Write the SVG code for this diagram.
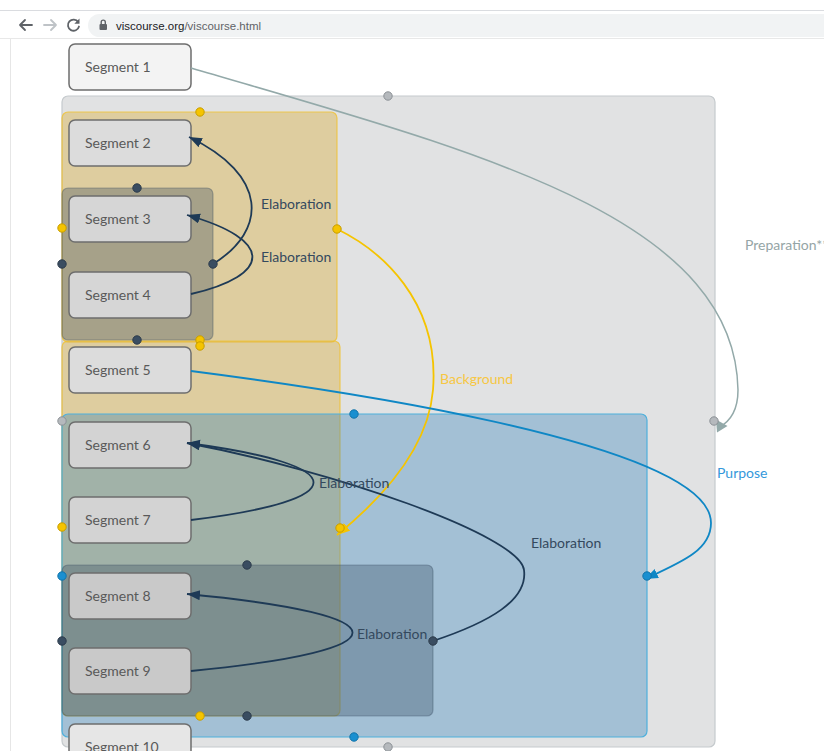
<svg xmlns="http://www.w3.org/2000/svg" width="824" height="751" viewBox="0 0 824 751">
<style>
  .chrome-ico{fill:none;stroke-width:1.8;stroke-linecap:round;stroke-linejoin:round}
  .url{font-family:"Liberation Sans","Noto Sans",sans-serif;font-size:11.5px}
  .grp{stroke-width:1.2}
  .g-gray{fill:#e1e2e3;stroke:#c5cacd}
  .g-yel{fill:rgb(218,165,32);fill-opacity:0.35;stroke:#f0c233;stroke-opacity:0.8}
  .g-dark{fill:#34495e;fill-opacity:0.33;stroke:#34495e;stroke-opacity:0.35}
  .g-blue{fill:rgb(50,128,186);fill-opacity:0.35;stroke:#4fb0dc}
  .node rect{stroke:#6e6e6e;stroke-width:1.5}
  .node text{font-family:Lato,"Liberation Sans",sans-serif;font-size:14px;fill:#595959}
  .edge{fill:none;stroke-width:1.8}
  .e-elab{stroke:#1e3a56}
  .e-prep{stroke:#93a9a9;stroke-width:1.5}
  .e-bg{stroke:#f5c400}
  .e-purp{stroke:#0f87c5}
  .lbl{font-family:Lato,"Liberation Sans",sans-serif;font-size:14px}
  .h{stroke-width:1}
  .h-gray{fill:#b5b9bd;stroke:#8c9196}
  .h-yel{fill:#f5c400;stroke:#c79d00}
  .h-dark{fill:#3a4d61;stroke:#2c3b4b}
  .h-blue{fill:#1a8fd0;stroke:#1274aa}
</style>
<defs>
  <marker id="a-elab" markerUnits="userSpaceOnUse" markerWidth="14" markerHeight="12" refX="13" refY="5" orient="auto"><path d="M0,0 L13,5 L0,10 z" fill="#1e3a56"/></marker>
  <marker id="a-prep" markerUnits="userSpaceOnUse" markerWidth="14" markerHeight="14" refX="12" refY="6" orient="auto"><path d="M0,0 L12,6 L0,12 z" fill="#93a9a9"/></marker>
  <marker id="a-bg" markerUnits="userSpaceOnUse" markerWidth="14" markerHeight="12" refX="13" refY="5" orient="auto"><path d="M0,0 L13,5 L0,10 z" fill="#f5c400"/></marker>
  <marker id="a-purp" markerUnits="userSpaceOnUse" markerWidth="14" markerHeight="12" refX="13" refY="5" orient="auto"><path d="M0,0 L13,5 L0,10 z" fill="#0f87c5"/></marker>
</defs>
<rect x="0" y="0" width="824" height="751" fill="#ffffff"/>
<!-- browser chrome -->
<g id="browser-bar">
  <line x1="0" y1="10.5" x2="824" y2="10.5" stroke="#dadce0"/>
  <line x1="0" y1="38.5" x2="824" y2="38.5" stroke="#e8e8e8"/>
  <line x1="10.5" y1="39" x2="10.5" y2="751" stroke="#e6e6e6"/>
  <rect x="88" y="14" width="780" height="23" rx="11.5" fill="#f1f3f4"/>
  <path class="chrome-ico" stroke="#5f6368" d="M32,25 H20 M25,20 L20,25 L25,30"/>
  <path class="chrome-ico" stroke="#bfc3c7" d="M44,25 H56 M51,20 L56,25 L51,30"/>
  <path class="chrome-ico" stroke="#5f6368" d="M78.2,22 A5.6,5.6 0 1 0 79,26.5"/>
  <path fill="#5f6368" d="M79.5,18.5 L79.5,23.8 L74.3,23.8 z"/>
  <rect x="99.5" y="24" width="7.5" height="6" rx="1" fill="#5f6368"/>
  <path d="M101.2,24 V22.2 a2.05,2.05 0 0 1 4.1,0 V24" fill="none" stroke="#5f6368" stroke-width="1.4"/>
  <text class="url" x="116" y="29.5"><tspan fill="#202124">viscourse.org</tspan><tspan fill="#5f6368">/viscourse.html</tspan></text>
</g>
<!-- groups -->
<g id="group-preparation"><rect class="grp g-gray" x="62" y="96" width="653" height="651" rx="6"/></g>
<g id="group-background-a"><rect class="grp g-yel" x="62" y="112" width="275" height="230" rx="6"/></g>
<g id="group-background-b"><rect class="grp g-yel" x="62" y="341" width="278" height="375" rx="6"/></g>
<g id="group-elab-3-4"><rect class="grp g-dark" x="62" y="188" width="151" height="152" rx="6"/></g>
<g id="group-purpose"><rect class="grp g-blue" x="62" y="414" width="585" height="323" rx="6"/></g>
<g id="group-elab-8-9"><rect class="grp g-dark" x="62" y="565" width="371" height="151" rx="6"/></g>
<!-- nodes -->
<g id="seg1" class="node"><rect x="69" y="44" width="122" height="46" rx="6" fill="#f3f3f3"/><text x="85" y="72">Segment 1</text></g>
<g id="seg2" class="node"><rect x="69" y="120" width="122" height="46" rx="6" fill="#dcdcdc"/><text x="85" y="148">Segment 2</text></g>
<g id="seg3" class="node"><rect x="69" y="196" width="122" height="46" rx="6" fill="#d6d6d6"/><text x="85" y="224">Segment 3</text></g>
<g id="seg4" class="node"><rect x="69" y="272" width="122" height="46" rx="6" fill="#d6d6d6"/><text x="85" y="300">Segment 4</text></g>
<g id="seg5" class="node"><rect x="69" y="347" width="122" height="46" rx="6" fill="#dcdcdc"/><text x="85" y="375">Segment 5</text></g>
<g id="seg6" class="node"><rect x="69" y="422" width="122" height="46" rx="6" fill="#d3d3d3"/><text x="85" y="450">Segment 6</text></g>
<g id="seg7" class="node"><rect x="69" y="497" width="122" height="46" rx="6" fill="#d3d3d3"/><text x="85" y="525">Segment 7</text></g>
<g id="seg8" class="node"><rect x="69" y="573" width="122" height="46" rx="6" fill="#c9c9c9"/><text x="85" y="601">Segment 8</text></g>
<g id="seg9" class="node"><rect x="69" y="648" width="122" height="46" rx="6" fill="#c9c9c9"/><text x="85" y="676">Segment 9</text></g>
<g id="seg10" class="node"><rect x="69" y="724" width="122" height="46" rx="6" fill="#e6e6e6"/><text x="85" y="752">Segment 10</text></g>
<!-- connectors -->
<g id="connectors">
  <path class="edge e-prep" d="M191,68 C470,150 735,215 738,390 C738,410 730,422 718,428" />
  <path d="M716,419.5 L727.5,426 L717,432.5 z" fill="#93a9a9"/>
  <path class="edge e-elab" marker-end="url(#a-elab)" d="M213,264 C268,230 268,175 189,137"/>
  <path class="edge e-elab" marker-end="url(#a-elab)" d="M191,294 C272,275 275,240 187,215"/>
  <path class="edge e-bg" marker-end="url(#a-bg)" d="M337,229 C380,250 440,300 433,390 C428,450 380,500 337,535"/>
  <path class="edge e-purp" marker-end="url(#a-purp)" d="M191,371 C300,385 711,440 711,523 C711,550 682,562 645,579"/>
  <path class="edge e-elab" marker-end="url(#a-elab)" d="M191,520 C355,500 355,465 187,443"/>
  <path class="edge e-elab" marker-end="url(#a-elab)" d="M433,641 C490,622 528,600 524,570 C520,535 330,470 187,443"/>
  <path class="edge e-elab" marker-end="url(#a-elab)" d="M191,671 C407,650 407,615 187,594"/>
</g>
<!-- labels -->
<g id="labels">
  <text class="lbl" x="745" y="250" fill="#95a5a6">Preparation**</text>
  <text class="lbl" x="261" y="209" fill="#34495e">Elaboration</text>
  <text class="lbl" x="261" y="262" fill="#34495e">Elaboration</text>
  <text class="lbl" x="440" y="384" fill="#f7c744">Background</text>
  <text class="lbl" x="717" y="478" fill="#3498db">Purpose</text>
  <text class="lbl" x="319" y="488" fill="#34495e">Elaboration</text>
  <text class="lbl" x="531" y="548" fill="#34495e">Elaboration</text>
  <text class="lbl" x="357" y="639" fill="#34495e">Elaboration</text>
</g>
<!-- handles -->
<g id="handles">
  <circle class="h h-gray" cx="388" cy="96" r="4.2"/><circle class="h h-gray" cx="388" cy="747" r="4.2"/><circle class="h h-gray" cx="62" cy="421" r="4.2"/><circle class="h h-gray" cx="714" cy="421" r="4.2"/>
  <circle class="h h-yel" cx="200" cy="112" r="4.2"/><circle class="h h-yel" cx="62" cy="228" r="4.2"/><circle class="h h-yel" cx="337" cy="229" r="4.2"/><circle class="h h-yel" cx="200" cy="340" r="4.2"/>
  <circle class="h h-dark" cx="137" cy="188" r="4.2"/><circle class="h h-dark" cx="62" cy="264" r="4.2"/><circle class="h h-dark" cx="213" cy="264" r="4.2"/><circle class="h h-dark" cx="137" cy="340" r="4.2"/>
  <circle class="h h-yel" cx="200" cy="346" r="4.2"/><circle class="h h-yel" cx="62" cy="527" r="4.2"/><circle class="h h-yel" cx="340" cy="528" r="4.2"/><circle class="h h-yel" cx="200" cy="716" r="4.2"/>
  <circle class="h h-blue" cx="354" cy="414" r="4.2"/><circle class="h h-blue" cx="62" cy="576" r="4.2"/><circle class="h h-blue" cx="647" cy="576" r="4.2"/><circle class="h h-blue" cx="354" cy="737" r="4.2"/>
  <circle class="h h-dark" cx="247" cy="565" r="4.2"/><circle class="h h-dark" cx="62" cy="641" r="4.2"/><circle class="h h-dark" cx="433" cy="641" r="4.2"/><circle class="h h-dark" cx="247" cy="716" r="4.2"/>
</g>
</svg>
